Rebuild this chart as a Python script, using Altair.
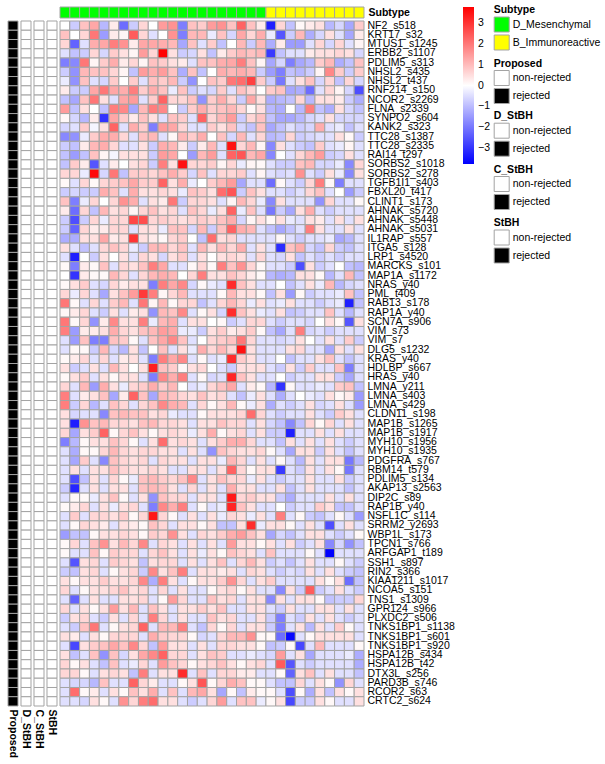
import altair as alt
import pandas as pd

genes = ["NF2_s518","KRT17_s32","MTUS1_s1245","ERBB2_s1107","PDLIM5_s313","NHSL2_s435","NHSL2_t437",
         "RNF214_s150","NCOR2_s2269","FLNA_s2339","SYNPO2_s604","KANK2_s323","TTC28_s1387","TTC28_s2335",
         "RAI14_t297","SORBS2_s1018","SORBS2_s278","TGFB1I1_s403","FBXL20_t417","CLINT1_s173","AHNAK_s5720",
         "AHNAK_s5448","AHNAK_s5031","IL1RAP_s557","ITGA5_s128","LRP1_s4520","MARCKS_s101","MAP1A_s1172",
         "NRAS_y40","PML_t409","RAB13_s178","RAP1A_y40","SCN7A_s906","VIM_s73","VIM_s7","DLG5_s1232",
         "KRAS_y40","HDLBP_s667","HRAS_y40","LMNA_y211","LMNA_s403","LMNA_s429","CLDN11_s198","MAP1B_s1265",
         "MAP1B_s1917","MYH10_s1956","MYH10_s1935","PDGFRA_s767","RBM14_t579","PDLIM5_s134","AKAP13_s2563",
         "DIP2C_s89","RAP1B_y40","NSFL1C_s114","SRRM2_y2693","WBP1L_s173","TPCN1_s766","ARFGAP1_t189",
         "SSH1_s897","RIN2_s366","KIAA1211_s1017","NCOA5_s151","TNS1_s1309","GPR124_s966","PLXDC2_s506",
         "TNKS1BP1_s1138","TNKS1BP1_s601","TNKS1BP1_s920","HSPA12B_s434","HSPA12B_t42","DTX3L_s256",
         "PARD3B_s746","RCOR2_s63","CRTC2_s624"]

samples = ["S%02d" % i for i in range(1, 32)]
subtype_names = ["D_Mesenchymal", "B_Immunoreactive"]
subtype_counts = [21, 10]
subtype_colors = ["#00ff00", "#ffff00"]

methods = ["Proposed", "D_StBH", "C_StBH", "StBH"]
method_status = ["rejected", "non-rejected", "non-rejected", "non-rejected"]
status_levels = ["non-rejected", "rejected"]
status_colors = ["#ffffff", "#000000"]

values = [
 [0,-0.75,0.9,1.3,-1.05,0.3,-2.15,-0.75,0.6,0,1.45,1.6,-1.9,0.9,0.75,1.45,1.6,0.9,2.3,0.9,0.3, -3.3,0.6,-0.9,0.1,0.3,0.45,-1.05,-0.6,-1.3,0.75],
 [0.9,0,0.6,2.0,-1.45,0.3,0.15,2.4,0.6,-0.45,0,1.6,-1.9,1.05,1.05,-0.3,0.9,-0.6,1.3,0.6,1.2, -0.3,-2.5,-0.75,1.05,-1.2,-0.6,0.45,-0.45,-1.3,0.3],
 [0.6,-2.3,-0.45,1.2,1.3,1.9,1.6,0.3,1.3,1.3,1.2,1.05,-1.3,0.9,-0.45,0.75,-0.9,0,1.05,-0.75,1.05, -1.2,0.3,-1.45,-1.45,-0.45,0.6,-0.6,0.6,-0.45,0.15],
 [-0.45,-0.9,-0.75,0.6,-0.6,0.75,0.45,0.15,1.45,0.6,3.7,0.45,-0.75,-0.6,0.45,-0.9,0.3,0.75,1.05,0.9,1.05, -2.9,-0.9,-0.45,-0.45,0.3,0.45,0.45,0.6,0.45,-0.6],
 [-1.9,-1.75,2.0,0.15,0.75,1.2,0.3,0.6,0.15,0.9,0.75,0.45,0.3,-0.45,0.9,0.9,1.2,1.3,1.9,0.9,0.15, -1.3,-0.6,-1.9,-1.3,-1.05,0.75,1.05,-1.2,-0.9,0.9],
 [-0.75,-1.6,1.05,0.9,0.9,0.6,0.15,-0.9,1.45,1.2,1.45,0.9,-1.2,0.9,-0.9,0,1.2,1.05,1.2,1.05,-0.75, -1.45,-1.9,-0.9,-1.05,-0.75,0.15,1.75,0.75,-0.75,0.75],
 [-0.3,-1.6,0.9,-0.45,-0.6,0.75,0,0.75,-0.45,0.9,0.75,1.05,-0.75,-1.6,0,0.9,0.75,2.0,2.15,2.8,0.75, -0.75,-2.0,-0.45,0.45,0.9,-0.6,0.6,-0.9,0.6,-0.6],
 [0.3,-0.75,-0.75,1.3,2.0,1.3,1.2,1.9,0.75,1.2,0.9,-0.3,0.9,-0.75,-0.45,-0.6,0.75,-0.45,0.9,0.6,0, 0.75,0.9,-1.3,-1.2,-2.15,-0.45,0.6,0.15,-0.6,-2.6],
 [-0.9,-1.3,0.9,2.0,0.45,-0.45,1.3,1.45,-0.45,0.75,2.3,0.6,0.6,0.9,-1.6,0.75,1.2,0.6,-0.75,1.3,0.45, -1.2,-1.05,-0.9,0.6,-1.05,0.45,0.45,0.3,-0.75,-1.2],
 [1.45,-0.9,0.45,0,-0.9,1.9,1.75,-1.3,1.05,1.9,1.75,0,-0.75,0.75,1.2,0.75,0.9,1.05,0.6,0.1,0.45, -1.05,-1.2,0,-1.05,1.9,-0.9,-1.2,0.45,-0.6,-0.9],
 [0.1,-0.6,-1.05,0.3,-3.0,1.3,0.75,0.3,0.9,0.45,-0.45,0.9,0.75,-0.45,2.3,0.6,1.05,1.45,-0.75,0.6,0.9, -0.9,-1.3,-1.3,-1.05,-0.6,-0.45,0.45,-0.6,-0.6,-0.6],
 [-0.6,-0.45,0.75,-0.15,0.45,2.3,-0.45,1.2,0.75,-1.9,1.45,1.3,0.6,-0.45,-0.45,0.75,0.45,0.9,-0.6,-0.9,0.9, -1.3,-0.9,-0.45,-0.75,-0.6,1.2,-0.45,-0.3,-0.9,-0.45],
 [-1.75,-1.6,-0.3,0.75,1.2,1.2,0.6,-0.45,0.9,1.05,-0.45,0.1,1.05,0.75,1.2,0,0.9,-0.6,1.05,-0.45,0.6, -1.05,-0.9,0.6,-0.75,-0.6,-0.45,-0.45,0.45,0.1,-0.75],
 [-0.75,-0.9,0.3,1.05,1.2,0.6,-0.45,-0.45,0.45,-0.75,1.2,1.05,0.3,-0.75,0.3,1.05,-0.45,3.5,0.6,1.05,0.15, -1.75,0.45,-0.45,-0.75,-0.9,0.75,-0.45,-0.3,0.15,-0.45],
 [-0.9,-1.45,-0.9,0.9,0.15,-0.15,0.45,0.45,0.45,-0.75,1.45,1.3,0,-1.45,1.05,1.45,-0.45,2.3,2.5,1.05,1.3, -1.75,0,-0.45,0.6,1.05,1.45,-0.75,-0.6,0.45,-0.45],
 [-0.9,0.75,0.3,-2.5,-0.45,0.3,0,0.45,0.6,-0.75,1.9,0.45,3.5,0.6,0.6,0.75,0.15,0.6,-0.3,0.15,0.1, -0.45,-0.75,-0.75,0.9,1.05,-0.6,-0.6,-0.3,-1.75,0.6],
 [0.6,0.6,-0.3,3.6,-0.6,2.0,-0.9,0.75,0.75,0.6,0.9,1.2,0.75,-0.6,0.9,-0.45,0.6,0.6,0.75,-0.45,0.15, -0.45,-0.6,-0.45,1.6,-0.45,-0.75,0.45,-0.3,-1.75,0.45],
 [0.1,-0.45,0.6,0.1,0.6,0.75,0.9,1.3,0.75,0.75,2.3,0.45,1.2,-0.3,0,0.75,1.05,1.45,-1.3,-0.45,-0.45, -2.15,0.1,-0.45,-0.75,0.6,1.9,0.1,-1.9,-0.45,-0.45],
 [-0.75,-0.6,-0.75,-0.75,1.2,0.9,-0.45,1.2,0.45,0.45,0.6,0.45,-0.3,0.9,0.75,0.45,2.15,2.5,-0.75,0.9,0.45, -0.45,-0.45,-0.75,-0.45,0.6,0.9,-0.45,0,-1.45,-0.75],
 [0.9,-1.9,-0.3,0.6,0,0.6,1.6,1.2,-0.45,0.45,0.3,2.0,-0.75,0.6,0.6,0.45,-0.45,0.15,1.05,0.6,-0.3, -1.75,0.45,-0.45,-0.45,-0.45,-1.6,0.6,-0.45,-0.45,0.1],
 [0.3,-2.15,0.6,-0.9,1.05,0.45,0.6,0.15,0.6,0.9,0.45,0.6,-0.45,0.9,0.6,-0.3,0.45,2.3,-0.3,0.9,-0.45, -2.0,-0.75,-1.3,0.45,1.2,-0.45,-0.75,-0.45,-0.45,-0.45],
 [-0.75,-2.6,-0.75,0.6,-0.3,0.6,0.6,2.7,2.6,0.6,0.75,0.6,0.45,0.6,0.75,0.6,0.9,1.2,-0.6,0.15,0.45, 0.1,0.45,-0.3,-0.45,0.45,0.3,-0.45,0.45,-0.45,0.45],
 [-0.75,-2.3,0.6,0.3,0.3,0.6,0.6,-0.45,0.45,0.45,-0.3,0.9,0.9,-0.6,1.05,-0.75,0.9,2.3,1.2,1.05,-0.45, -0.9,-1.3,-0.9,-0.45,1.9,0.45,-0.45,-0.45,0.45,-0.45],
 [-1.2,-1.2,0.45,0.45,1.3,0.3,0.45,3.0,0.45,0.3,0.1,0.6,0.75,0,-0.9,2.15,0.45,0.6,-0.45,-0.45,-0.45, -0.45,0.1,-0.45,-0.75,-0.45,-0.45,-0.3,-1.3,-1.05,-0.45],
 [0.45,-0.45,-0.9,-0.45,0.6,0.9,0.6,-0.3,-0.75,1.05,1.05,0.6,0.9,-0.45,1.05,0.45,1.05,0.6,1.2,-0.45,0.45, -0.45,-3.1,0.9,1.2,-0.6,-0.9,0.6,-0.75,-0.9,-0.45],
 [-0.45,-3.3,0,-0.75,0.45,0,0.45,-0.45,0.6,0.45,-0.6,0.45,0.75,-0.45,0.45,0,0.45,0.6,0.45,-0.45,0.6, -0.45,-0.6,0.45,-0.9,-0.45,-0.75,-0.45,-0.75,-0.45,-0.45],
 [0.1,-1.9,0.3,0.1,0.9,-0.45,0.6,0.45,0.9,1.9,1.3,-0.45,-0.45,0.1,0.6,0.1,1.9,0.9,1.6,0.6,0.1, -0.45,-0.45,-0.75,-2.6,0.45,-0.75,-0.45,0,-0.9,-1.05],
 [0,-3.0,0.3,0.1,0.1,1.05,0.6,-0.45,0.6,1.05,1.2,1.05,0,0.6,1.9,0.45,0.45,0.9,0.6,0.3,0.1, -1.05,-1.2,-1.05,0.45,0.45,0.1,-1.05,-0.45,1.05,-0.9],
 [0.1,0.45,0.75,-0.45,-0.6,0.6,0.3,0.45,0.45,-1.9,1.9,1.3,1.75,-0.6,0.1,-0.3,-0.45,3.1,0.9,0.45,-0.45, -0.45,0,-0.9,-0.45,0.45,-0.3,1.05,-1.05,-0.6,-0.45],
 [0.6,-0.3,0.6,-0.45,-1.3,0.45,0.9,1.45,2.9,1.9,0.15,0.6,1.05,-0.45,-0.45,-0.45,0.1,1.05,0.45,0.45,0.1, -0.9,0.45,-1.45,0.1,-0.75,-0.45,-0.45,-0.3,0.9,-0.9],
 [2.0,0.1,-0.45,0.6,-0.45,0.75,1.05,-0.45,2.0,0.15,1.05,0.1,0.6,0.6,-0.9,-0.45,0.6,1.05,0.6,-0.3,0.45, -0.45,-0.3,0.45,-0.45,-0.45,-0.75,-0.45,-0.3,-3.3,-0.9],
 [0.1,0.3,0.6,-0.45,-0.75,0.45,-0.45,0.3,0.45,-1.6,1.05,0.9,1.75,-0.45,0.1,0.45,-0.6,3.1,0.9,0.45,-0.3, -0.45,0.45,-0.9,-0.75,-0.45,-0.45,0.9,-0.45,-1.05,-0.45],
 [2.0,0.1,0.6,-1.6,0.3,1.75,0.45,0.45,1.9,-0.3,1.05,1.2,-0.45,0.45,0.45,0,0.1,-0.75,-0.45,0.6,0.6, -0.45,-0.75,-0.45,-0.45,-0.6,0,0.45,0.1,-2.5,0.45],
 [1.9,-1.45,0.3,0.3,0.45,1.2,0.6,0.45,0.9,1.05,1.45,1.3,-0.3,-0.3,-0.75,0.45,0.75,0.3,0.45,0.75,0.1, -0.9,-1.3,-0.45,1.9,-0.6,-0.45,-0.75,-0.45,-0.45,-0.45],
 [-0.45,-1.45,0.9,-1.9,-1.9,0.9,0.75,0.1,-0.45,0.9,1.3,1.75,0.9,-0.45,0,0.6,0.75,0.9,2.0,0.6,-0.45, -0.45,-0.6,-0.45,0.45,0,-0.45,0.45,-0.45,0.75,-0.75],
 [-0.45,0.1,0.1,-0.75,1.05,-0.6,-1.05,0.45,-0.9,0,0.9,-0.45,0.45,-0.3,1.2,0.6,1.05,0.6,3.5,0.45,-0.45, -0.45,-0.45,0.45,0.6,-0.45,-0.45,-1.3,0.45,-0.45,0.45],
 [0.1,0.3,0.6,-0.45,0.6,-0.45,0.3,0.45,-0.45,-1.9,1.9,1.3,1.75,-0.45,0.1,-0.45,-0.3,3.1,0.75,0.45,-0.45, -0.45,0,-0.9,-0.45,-0.45,0.45,0.9,-0.45,-0.9,-0.45],
 [0.45,-0.75,-0.45,0.45,-0.45,1.05,0.45,0,0.45,3.3,0.9,0.75,0.1,0.45,0.6,0,-0.45,-0.75,0.45,0.45,0.45, -0.45,-0.75,0.45,-0.75,0.75,-0.45,-0.45,0.9,-1.9,-0.45],
 [0.1,0.45,0.75,-0.45,0.45,0.1,0.45,0.45,-0.45,-1.9,1.75,1.2,1.9,-0.45,0.1,-0.6,-0.45,3.2,0.9,0.45,-0.45, -0.45,0,-0.75,-0.45,-0.45,0.45,0.45,-0.75,-1.3,-0.45],
 [0.6,-0.45,1.05,-1.45,1.2,0.45,-0.3,0.6,0.75,1.2,0.75,1.05,0,-0.45,-0.3,0.6,0.9,1.3,-0.45,0.3,0.1, -1.05,-3.0,0.1,-0.45,-0.45,-0.3,-0.45,0.75,0.9,-0.9],
 [1.9,-0.45,0.3,0.45,0.9,-1.3,0.3,2.3,0.9,-1.3,1.05,0.9,0.6,0.45,0.9,0.45,0.6,-0.45,-0.9,-0.3,0.45, -0.45,-1.2,-0.45,0,-0.3,-0.45,0.45,0.1,0.3,-1.45],
 [1.9,-0.75,0.6,-1.05,-0.45,0.9,0.6,-0.45,0.6,0.9,1.75,1.2,1.05,-0.45,0.6,0.1,0.45,1.05,0.1,-0.3,0.45, -1.2,-0.45,-0.75,-0.45,0.45,-0.6,-0.45,0.45,-0.45,-1.45],
 [0.45,-0.6,-0.45,-0.45,-1.75,0.9,1.05,0.9,0.9,0.45,0.6,-0.3,-0.45,-0.45,0.1,0.45,0.45,0.45,0.6,2.15,0.6, -0.45,-0.75,-0.45,-0.45,0.45,-0.45,-0.75,0.75,0.45,-0.45],
 [0.45,-3.3,1.6,0.9,1.05,0.6,0.6,0.45,0.9,1.05,0.6,0.6,0.45,-0.45,0.45,0.45,0.9,0.6,0.6,-0.45,0.45, -0.6,-0.9,-1.75,-0.9,0.6,0.1,0.6,-0.45,0.45,-0.45],
 [0.6,-1.3,0.45,0.75,2.3,0.1,0.6,0.9,0.45,0.1,0.45,0.6,0.45,-0.3,0.45,1.2,0.1,0.45,0.6,-0.45,0.45, -0.75,-0.75,-3.3,-0.45,-0.45,0.45,-0.45,0.45,-0.45,-0.45],
 [-1.9,-1.05,0.1,0.45,0.45,0.9,0.6,0.1,-0.45,0.45,2.15,0.45,0.6,0.45,-0.45,0.45,0.75,1.2,1.2,0.6,-0.45, -0.45,-0.9,0.45,-0.45,0.45,-0.45,0.45,-0.45,-0.75,-0.45],
 [-0.45,-1.2,0.1,0.1,0.6,1.05,0.6,0.45,0.6,0.6,0.45,0.45,-0.45,0.45,-0.45,-1.6,0.9,0.6,0.45,0.45,0.6, 0.1,-0.45,-1.3,0.45,0.45,-0.75,0.45,-0.45,-0.9,-0.45],
 [-0.45,-1.3,0.75,-0.45,-1.75,0.9,0.6,0.45,0.6,-0.45,0.6,0.45,0.45,-0.45,0.45,0.45,-0.3,1.05,0.6,-0.45,0.45, -0.45,0.1,-0.45,-1.05,0.45,-0.45,0.45,0.45,-2.0,-1.05],
 [-0.45,0.45,-0.45,0.45,0.45,0.9,0.6,0.45,0.45,0.6,0.45,-0.45,-0.45,0.45,0.45,-0.45,0.45,2.3,0.6,0.1,0.45, 0.45,-2.9,-0.45,-0.75,0.45,-0.45,0.45,0.1,-2.0,-0.45],
 [-0.45,-2.6,-0.9,0.45,-0.45,0.6,0.1,-0.3,0.9,1.05,0.75,0.6,0.9,1.75,-0.45,0.45,0.9,0.6,0.6,-0.3,0.45, -0.45,-0.75,-0.45,-0.45,0.45,-0.45,-0.45,0.45,-0.75,-0.45],
 [-0.75,-3.2,-0.45,0.45,-0.45,0.45,0.45,-0.45,0.9,1.05,0.9,0.45,-0.45,0.6,-0.45,0.45,-0.45,1.2,0.45,0.45,-0.45, -0.45,0.45,-0.9,-0.45,0.45,-0.45,-0.45,-0.45,-0.9,-0.45],
 [-0.45,0.1,0.1,-0.3,0.45,0.9,0.1,-0.45,0.45,-1.6,0.9,0.6,0.6,-0.45,0.45,0.45,-0.45,3.4,0.6,0.75,0.45, 0.45,-0.75,-1.2,-0.45,-0.45,-0.45,0.45,-0.45,0.45,-0.45],
 [0.1,0.3,0.6,-0.45,0.45,-0.3,0.45,0.6,-0.45,-1.9,1.75,1.2,1.9,-0.45,0.1,-0.45,-0.3,3.2,0.9,0.45,-0.45, -0.45,0,-0.75,-0.45,-0.45,0.75,0.45,-0.9,-0.9,-0.45],
 [-0.45,0.75,-0.45,0.6,0.6,0.45,0.75,0.1,0.6,3.4,0.6,0.1,-0.45,0.45,-0.45,0.45,-0.3,0.6,0.45,-0.3,0.45, -0.45,1.9,-0.45,0.1,-0.75,-0.9,-0.45,0.1,-0.45,-1.45],
 [-0.45,0.1,0.6,0.45,0.3,-0.45,0.45,0.3,0.1,0.9,0.6,-0.45,0.45,0.45,0.1,0.45,-0.9,-0.9,0.45,3.1,-0.3, 0.45,0.45,0.1,-0.45,0.45,-0.45,-2.6,-0.45,0.45,-0.45],
 [-1.45,-0.9,-0.9,0.1,0.45,0.45,0.6,0.45,0.1,0.75,0.6,1.6,0.45,-0.45,0.6,0.45,0.75,1.2,1.45,0.9,0.45, -1.3,-0.6,-0.9,-0.45,0.45,0.45,-0.45,-0.75,-0.45,0.1],
 [0.1,0.6,-0.45,0.9,1.6,0.45,1.05,0.6,1.75,-0.45,0.6,0.45,-0.45,0.45,-0.45,0.45,-0.45,1.45,0.45,0.45,0.1, 0.45,-0.45,0.45,-0.75,-0.45,0.45,-1.75,-0.6,-1.6,-0.9],
 [0.1,-0.45,-0.45,0.9,0.1,0.75,0.6,0.6,-0.45,0.6,0.9,0.45,-0.45,0.45,-0.3,0.45,0.1,0.9,0.6,0.45,-0.45, 0.9,-0.45,-0.45,-0.45,0.1,-0.45,-3.75,-0.45,-0.45,-0.45],
 [-0.45,-2.5,0.45,0.6,-0.45,0.75,0.6,0.45,-0.9,0.45,0.6,0.6,-0.45,0.45,-0.45,0.45,0.9,-0.45,0.6,1.05,0.45, -0.75,-0.45,-0.9,-0.45,0.45,-0.45,-0.45,0.1,-0.45,-0.75],
 [-0.75,-0.9,0.45,0.6,-0.45,0.1,0.45,0.6,-0.75,1.75,0.45,0.9,1.9,-0.45,0.45,0.45,0.3,0.45,-0.45,0.6,0.45, -0.45,-0.75,-0.45,-0.6,0.45,-0.45,0.45,-0.45,-0.75,-0.9],
 [0.45,0.1,0.45,0.45,0.75,0.45,0.45,0.6,1.75,-1.2,1.9,0.45,-0.45,0.1,0.45,0.45,0.75,1.6,0.6,-0.45,0.45, 0.75,-0.45,-0.45,-0.45,-0.45,0.45,0.1,0.45,-2.15,-0.9],
 [0.6,-0.45,0.1,0.45,0.45,0.6,0.9,0.45,0.6,-0.45,0.6,-0.45,0.45,-0.45,-0.45,0.1,0.45,0.6,0.1,0.45,-0.45, -0.45,-1.75,0.45,-0.75,2.4,-0.75,-0.45,0.45,-0.45,-0.75],
 [-0.45,-2.3,-0.45,0.45,-0.45,-0.45,0.45,0.45,0.6,-0.45,0.1,1.45,0.6,-0.45,-0.45,0.9,0.45,0.6,-0.45,0.45,0.45, -1.75,0.45,-0.45,0.45,0.45,0.1,-0.9,-0.75,-0.75,0.6],
 [0.6,-0.45,0.45,0.1,0.45,1.45,0.45,1.05,-0.45,0.9,0.45,-0.45,0.45,0.45,0.75,0.45,0.9,-0.45,-0.45,0.45,0.45, -0.45,-0.75,0.45,-0.45,-0.45,0.45,0.45,-0.45,0.45,-0.45],
 [-0.75,0.45,0.6,-0.45,-0.75,0.45,-0.45,0.6,-0.45,1.9,0.6,-0.45,0.45,-0.45,-0.45,0.9,0.45,0.6,-0.45,-0.45,0.45, -0.75,-1.9,-0.45,-0.75,0.45,-0.45,0.45,-0.45,-0.75,-0.45],
 [-0.45,-0.75,0.9,2.0,-0.45,0.1,0.45,0.6,2.3,-0.45,1.05,1.05,1.9,-0.45,-0.9,0.6,0.1,0.6,-0.45,0.45,0.45, -0.75,-1.9,-0.45,0.45,-1.05,0.45,-0.45,0.75,0.1,-0.45],
 [0.45,0.3,-0.45,0.45,0.1,0.6,0.6,0.6,-0.45,1.2,0.75,0.6,0.6,0.1,-0.6,-0.45,0.6,1.05,1.05,1.6,0.1, 0.1,-2.15,-3.65,-0.45,0.1,0.45,0.45,0.45,0.45,-0.45],
 [-0.45,-2.7,0.45,0.75,0.9,1.3,0.9,1.75,0.6,-0.9,1.45,0.45,0.45,-0.45,0.45,-0.45,0.6,0.6,0.45,0.45,0.1, -0.9,-0.75,0.1,-2.7,-0.45,1.05,-0.45,-0.45,-0.45,0.1],
 [0.45,-0.9,-0.45,0.9,-1.6,0.9,-0.6,0.45,1.3,1.75,2.3,0.6,0.6,-0.45,0.45,0.9,0.75,-0.45,-0.45,-0.3,-0.45, -0.6,1.45,-0.45,0.45,-1.3,-0.45,-0.45,-0.45,-0.3,-1.2],
 [0.6,0.1,0.45,-0.45,-0.9,0.9,-0.45,-0.3,0.6,-0.45,1.45,0.9,0.6,0.1,0.45,0.6,0.9,0.45,0.1,0.45,0.6, -0.45,2.4,-2.5,-0.45,-0.75,-0.45,-0.45,-0.45,-0.45,-1.2],
 [0.6,0.6,0.1,-0.45,0.45,0.6,0.45,-0.9,1.9,-0.45,0.45,0.45,3.1,-0.45,0.9,-0.45,0.6,0.6,0.3,0.3,-0.45, -0.45,0.1,-2.3,0.45,0.9,-0.45,0.45,-0.45,-0.45,-0.9],
 [-0.45,-0.6,-0.6,-1.05,0.9,-0.45,-0.45,2.3,0.6,0.3,-0.45,-0.45,0.1,0.45,2.5,0.1,0.6,1.2,0.9,0.1,0.1, -0.45,-0.9,-0.9,0.6,-0.45,0.45,0.1,-1.6,0.6,-0.45],
 [-0.45,2.15,0.1,0.3,-0.45,0.45,0.1,0.9,0.45,1.2,-0.45,0.9,-0.45,1.05,1.3,0.45,-1.3,0.1,-0.9,0.3,0.1, 0.1,-0.45,-2.6,0.1,-1.2,0.45,-0.9,0.45,0.1,0.45],
 [-0.45,-0.45,-0.6,0.45,0.1,-0.45,1.6,0.6,1.9,2.15,0.45,0.45,-0.45,-0.75,-0.45,0.6,1.45,-0.45,0.9,0.9,-0.3, 0.1,0.45,-2.7,-0.75,-0.75,0.45,0.1,-0.45,-0.45,0.45],
]

# ---- tables built from the arrays above ----
sample_subtype = []
for name, n in zip(subtype_names, subtype_counts):
    sample_subtype += [name] * n

heat_rows = []
for g, row in zip(genes, values):
    for s, v in zip(samples, row):
        heat_rows.append({"gene": g, "sample": s, "value": v})
df_heat = pd.DataFrame(heat_rows)

df_sub = pd.DataFrame({"sample": samples, "subtype": sample_subtype, "row": ["Subtype"] * len(samples)})

annot_rows = []
for g in genes:
    for m, st in zip(methods, method_status):
        annot_rows.append({"gene": g, "method": m, "status": st})
df_annot = pd.DataFrame(annot_rows)

GRID = "#a3a3a3"
FONT = "Liberation Sans"
ANNOT_W = 49      # width of the four method columns
GAP = 3           # gap between method columns and heatmap
HEAT_W = 304

legend_common = dict(
    orient="none", direction="vertical", symbolType="square", symbolSize=225,
    symbolStrokeColor=GRID, symbolStrokeWidth=1, labelFontSize=10.5, labelFont=FONT,
    titleFontSize=10.5, titleFont=FONT, titleFontWeight="bold", titlePadding=1,
    rowPadding=-5, labelOffset=3, padding=0, titleColor="black", labelColor="black",
)

# ---- main heatmap ----
heat = alt.Chart(df_heat).mark_rect(stroke=GRID, strokeWidth=1).encode(
    x=alt.X("sample:N", sort=samples, axis=None),
    y=alt.Y("gene:N", sort=genes,
            axis=alt.Axis(orient="right", title=None, ticks=False, domain=False,
                          labelPadding=3, labelFontSize=10.5, labelFont=FONT,
                          labelColor="black", labelLimit=300, labelOverlap=False)),
    fill=alt.Fill("value:Q",
                  scale=alt.Scale(domain=[-3.75, 0, 3.75],
                                  range=["#0000ff", "#ffffff", "#ff0000"],
                                  interpolate="rgb"),
                  legend=alt.Legend(orient="none", direction="vertical", title=None,
                                    legendX=403, legendY=-14,
                                    gradientLength=157, gradientThickness=11,
                                    gradientStrokeWidth=0,
                                    values=[-3, -2, -1, 0, 1, 2, 3],
                                    labelFontSize=10.5, labelFont=FONT,
                                    labelColor="black", labelOffset=4, padding=0)),
).properties(width=HEAT_W, height=685)

# ---- subtype annotation bar (same width as the whole block, bands over the heatmap part) ----
sub = alt.Chart(df_sub).mark_rect(stroke=GRID, strokeWidth=1).encode(
    x=alt.X("sample:N", sort=samples, axis=None,
            scale=alt.Scale(range=[ANNOT_W + GAP, ANNOT_W + GAP + HEAT_W],
                            paddingInner=0, paddingOuter=0)),
    y=alt.Y("row:N", axis=alt.Axis(orient="right", title=None, ticks=False, domain=False,
                                   labelPadding=4, labelFontSize=10.5, labelFont=FONT,
                                   labelFontWeight="bold", labelColor="black")),
    fill=alt.Fill("subtype:N",
                  scale=alt.Scale(domain=subtype_names, range=subtype_colors),
                  legend=alt.Legend(title="Subtype", legendX=485.7, legendY=-2,
                                    **legend_common)),
).properties(width=ANNOT_W + GAP + HEAT_W, height=11)

# ---- left method columns ----
legend_y = [37.5, 90.2, 143.5, 197.0]
layers = []
for m, ly in zip(methods, legend_y):
    layers.append(
        alt.Chart(df_annot).transform_filter(alt.datum.method == m)
        .mark_rect(stroke=GRID, strokeWidth=1).encode(
            x=alt.X("method:N", sort=methods,
                    scale=alt.Scale(domain=methods, paddingInner=0.23, paddingOuter=0),
                    axis=alt.Axis(orient="bottom", title=None, ticks=False, domain=False,
                                  labelAngle=90, labelPadding=3, labelFontSize=10.5,
                                  labelFont=FONT, labelFontWeight="bold",
                                  labelColor="black")),
            y=alt.Y("gene:N", sort=genes, axis=None),
            fill=alt.Fill("status:N",
                          scale=alt.Scale(domain=status_levels, range=status_colors),
                          legend=alt.Legend(title=m, legendX=485.7, legendY=ly,
                                            **legend_common)),
        )
    )
annot = alt.layer(*layers).resolve_scale(fill="independent").resolve_legend(
    fill="independent").properties(width=ANNOT_W, height=685)

bottom = alt.hconcat(annot, heat, spacing=GAP, bounds="flush").resolve_scale(
    x="independent", y="independent", fill="independent").resolve_legend(fill="independent")

chart = alt.vconcat(sub, bottom, spacing=3, bounds="flush").resolve_scale(
    x="independent", y="independent", fill="independent").resolve_legend(
    fill="independent").properties(
    padding={"left": 7, "top": 5, "right": 0, "bottom": 0}
).configure(font=FONT, background="white").configure_view(stroke=None)

chart.save("out.html", embed_options={"renderer": "svg", "actions": False})
